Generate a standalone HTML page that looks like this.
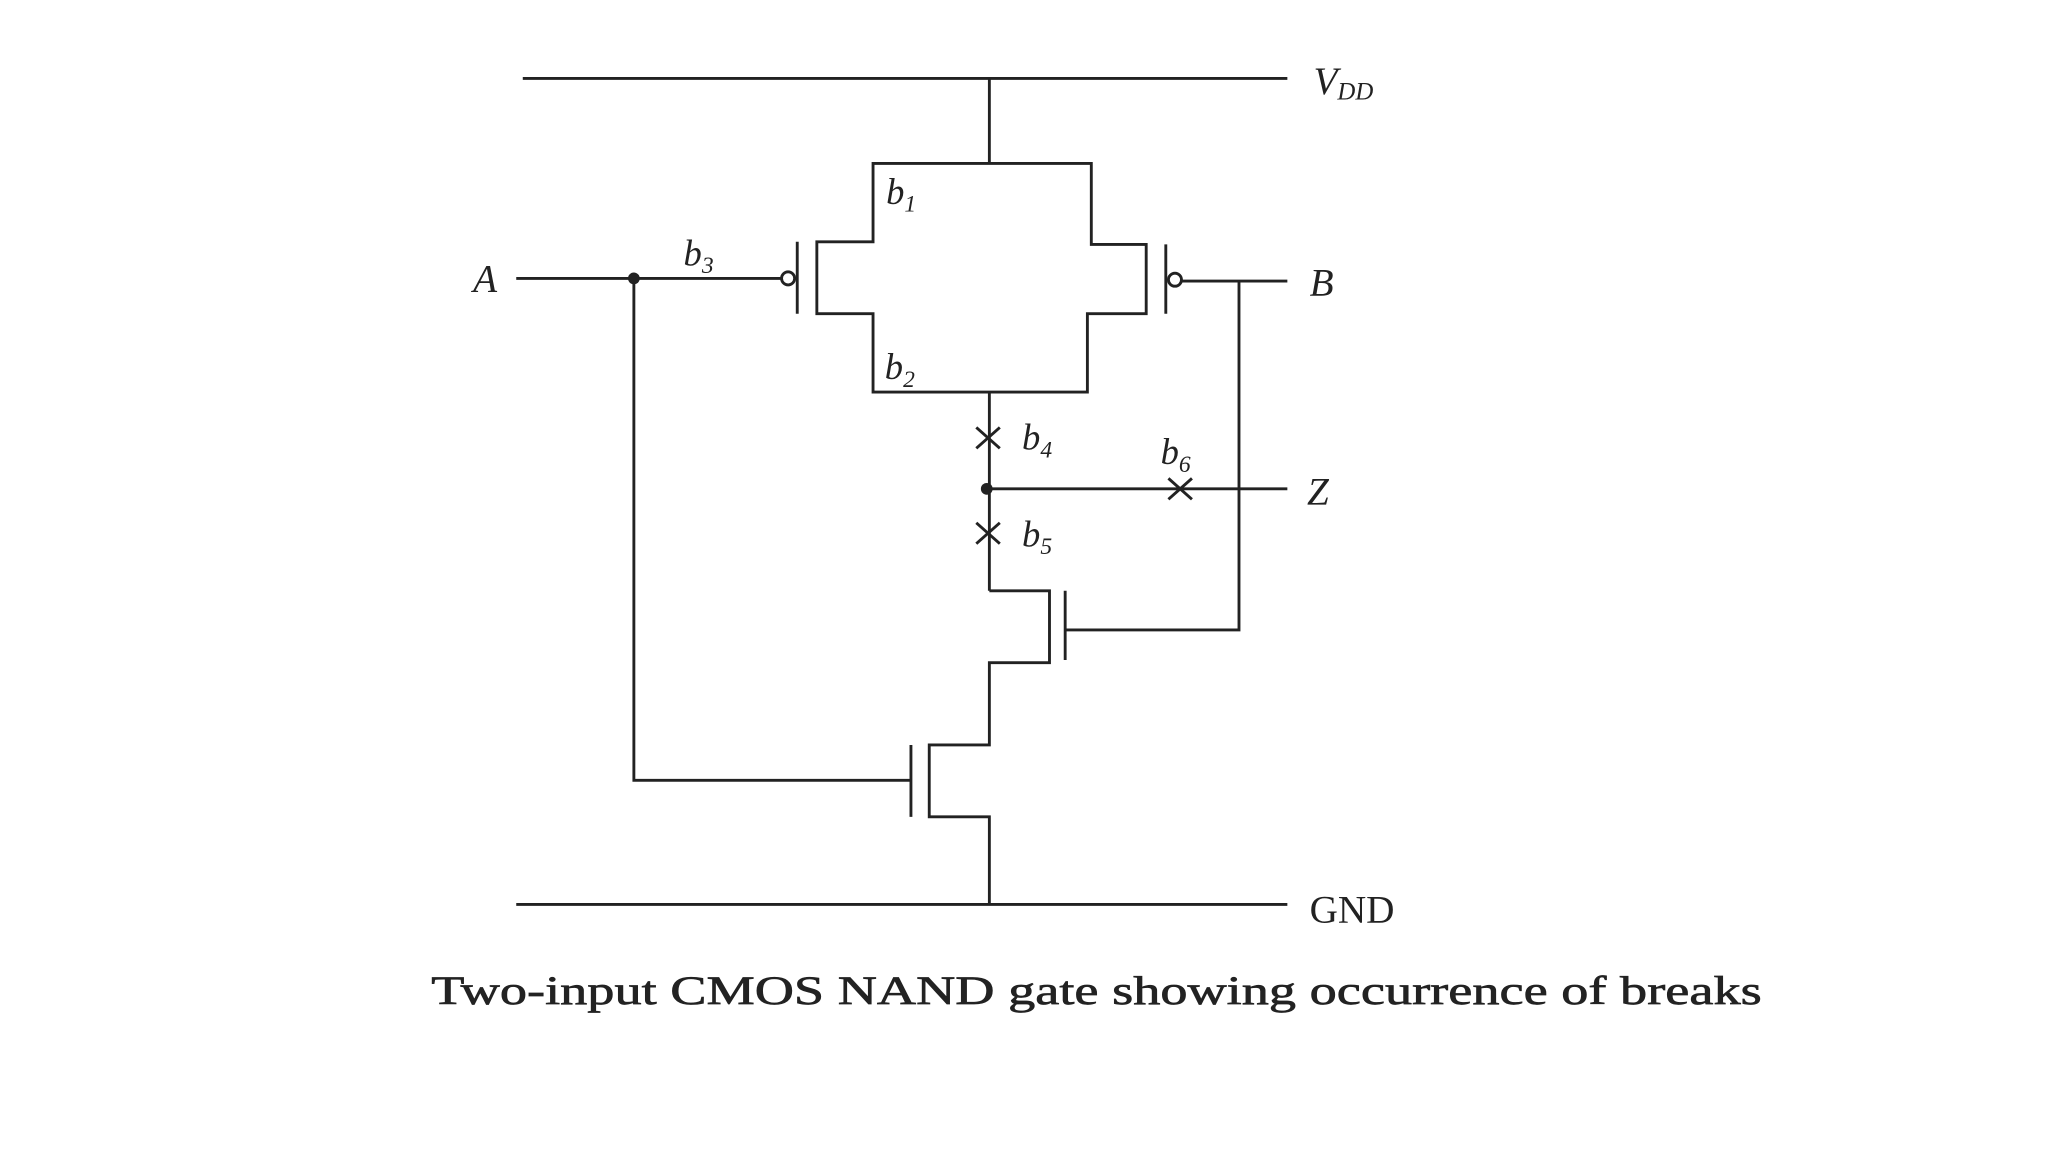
<!DOCTYPE html>
<html><head><style>html,body{margin:0;padding:0;background:#fff}svg{display:block}</style></head>
<body>
<svg width="2048" height="1152" viewBox="0 0 1567 881.4" xmlns="http://www.w3.org/2000/svg">
<g stroke="#222" stroke-width="2.2" fill="none">
<line x1="400" y1="60" x2="985" y2="60"/>
<line x1="757" y1="60" x2="757" y2="125"/>
<polyline points="757,125 668,125 668,185 625,185 625,240 668,240 668,300 832,300 832,240 877,240 877,187 835,187 835,125 757,125"/>
<line x1="610" y1="185" x2="610" y2="240"/>
<circle cx="603" cy="213" r="5"/>
<line x1="395" y1="213" x2="598" y2="213"/>
<line x1="892" y1="187" x2="892" y2="240"/>
<circle cx="899" cy="214" r="5"/>
<line x1="904" y1="215" x2="985" y2="215"/>
<polyline points="948,215 948,482 815,482"/>
<line x1="757" y1="300" x2="757" y2="452"/>
<line x1="755" y1="374" x2="985" y2="374"/>
<polyline points="757,452 803,452 803,507 757,507 757,570 711,570 711,625 757,625 757,692"/>
<line x1="815" y1="452" x2="815" y2="505"/>
<line x1="697" y1="570" x2="697" y2="625"/>
<polyline points="485,213 485,597 697,597"/>
<line x1="395" y1="692" x2="985" y2="692"/>
<path d="M747,327 L765,343 M765,327 L747,343"/>
<path d="M747,400 L765,416 M765,400 L747,416"/>
<path d="M894,366 L912,382 M912,366 L894,382"/>
</g>
<g fill="#222">
<circle cx="485" cy="213" r="4.5"/>
<circle cx="755" cy="374" r="4.5"/>
</g>
<g font-family="Liberation Serif, serif" font-style="italic" font-size="28" fill="#222">
<text x="678" y="156">b<tspan font-size="18" dy="6">1</tspan></text>
<text x="523" y="203">b<tspan font-size="18" dy="6">3</tspan></text>
<text x="677" y="290">b<tspan font-size="18" dy="6">2</tspan></text>
<text x="782" y="344">b<tspan font-size="18" dy="6">4</tspan></text>
<text x="888" y="355">b<tspan font-size="18" dy="6">6</tspan></text>
<text x="782" y="418">b<tspan font-size="18" dy="6">5</tspan></text>
<text x="362" y="223" font-size="30">A</text>
<text x="1002" y="226" font-size="30">B</text>
<text x="1000" y="386" font-size="30">Z</text>
<text x="1005" y="72" font-size="30">V<tspan font-size="19" dy="4">DD</tspan></text>
</g>
<text x="1002" y="706" font-family="Liberation Serif, serif" font-size="30" fill="#222">GND</text>
<text x="839" y="768" text-anchor="middle" font-family="Liberation Serif, serif" font-size="31" fill="#222" stroke="#222" stroke-width="0.5" textLength="1018" lengthAdjust="spacingAndGlyphs">Two-input CMOS NAND gate showing occurrence of breaks</text>
</svg>
</body></html>
